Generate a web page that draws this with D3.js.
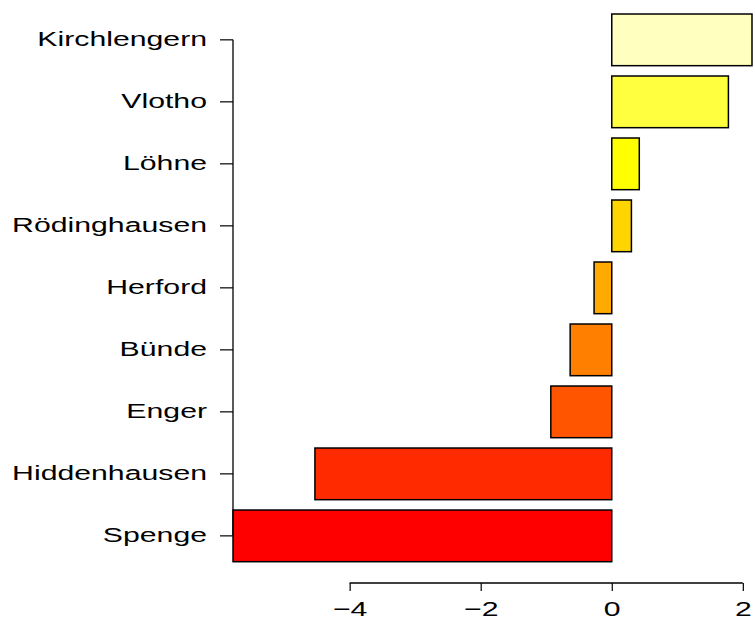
<!DOCTYPE html>
<html>
<head>
<meta charset="utf-8">
<script src="https://cdn.jsdelivr.net/npm/d3@7"></script>
<style>
  html, body { margin: 0; padding: 0; background: #fff; }
  svg { display: block; }
  text { font-family: "Liberation Sans", Arial, Helvetica, sans-serif; fill: #000; }
</style>
</head>
<body>
<svg id="chart" width="755" height="617"></svg>
<script>
// Municipalities, top to bottom
const categories = ["Kirchlengern", "Vlotho", "Löhne", "Rödinghausen", "Herford", "Bünde", "Enger", "Hiddenhausen", "Spenge"];
// Value per municipality
const values = [2.14, 1.78, 0.42, 0.30, -0.27, -0.635, -0.93, -4.53, -5.78];
// heat.colors(9), matched to the same order
const colors = ["#FFFFBF", "#FFFF40", "#FFFF00", "#FFD500", "#FFAA00", "#FF8000", "#FF5500", "#FF2A00", "#FF0000"];
// Bottom axis tick values
const xTicks = [-4, -2, 0, 2];

const svg = d3.select("#chart");
const fontSize = 21;
const stretch = 1.44; // wide glyph rendering of labels

const x = d3.scaleLinear()
  .domain([d3.min(values), d3.max(values)])
  .range([233, 752]);

const y = d3.scaleBand()
  .domain(categories)
  .range([14, 561.7])
  .paddingInner(0.2 / 1.2)
  .paddingOuter(0);

// Bars
svg.append("g")
  .selectAll("rect")
  .data(categories)
  .join("rect")
  .attr("x", (d, i) => x(Math.min(0, values[i])))
  .attr("y", d => y(d))
  .attr("width", (d, i) => Math.abs(x(values[i]) - x(0)))
  .attr("height", y.bandwidth())
  .attr("fill", (d, i) => colors[i])
  .attr("stroke", "#000")
  .attr("stroke-width", 1.5);

// Left axis with category labels
const axisX0 = x(d3.min(values));
const yAxis = svg.append("g")
  .attr("transform", `translate(${axisX0},0)`)
  .call(d3.axisLeft(y).tickSize(13).tickSizeOuter(0));
yAxis.select(".domain").remove();
yAxis.append("line")
  .attr("x1", 0).attr("x2", 0)
  .attr("y1", y(categories[0]) + y.bandwidth() / 2)
  .attr("y2", y(categories[categories.length - 1]) + y.bandwidth() / 2)
  .attr("stroke", "#000").attr("stroke-width", 1.3);
yAxis.selectAll(".tick line").attr("stroke", "#000").attr("stroke-width", 1.2);
yAxis.selectAll(".tick text")
  .attr("x", 0)
  .attr("dy", "0.3em")
  .attr("transform", `translate(-26,0) scale(${stretch},1)`)
  .style("font-size", fontSize + "px")
  .style("font-family", "'Liberation Sans', Arial, sans-serif");

// Bottom axis
const axisY0 = 583;
const xAxis = svg.append("g")
  .attr("transform", `translate(0,${axisY0})`)
  .call(d3.axisBottom(x).tickValues(xTicks).tickSize(8).tickSizeOuter(0));
xAxis.select(".domain").remove();
xAxis.append("line")
  .attr("x1", x(xTicks[0])).attr("x2", x(xTicks[xTicks.length - 1]))
  .attr("y1", 0).attr("y2", 0)
  .attr("stroke", "#000").attr("stroke-width", 1.3);
xAxis.selectAll(".tick line").attr("stroke", "#000").attr("stroke-width", 1.2);
xAxis.selectAll(".tick text")
  .attr("y", 18)
  .attr("dy", "0.71em")
  .attr("transform", `scale(${stretch},1)`)
  .style("font-size", fontSize + "px")
  .style("font-family", "'Liberation Sans', Arial, sans-serif");
</script>
</body>
</html>
